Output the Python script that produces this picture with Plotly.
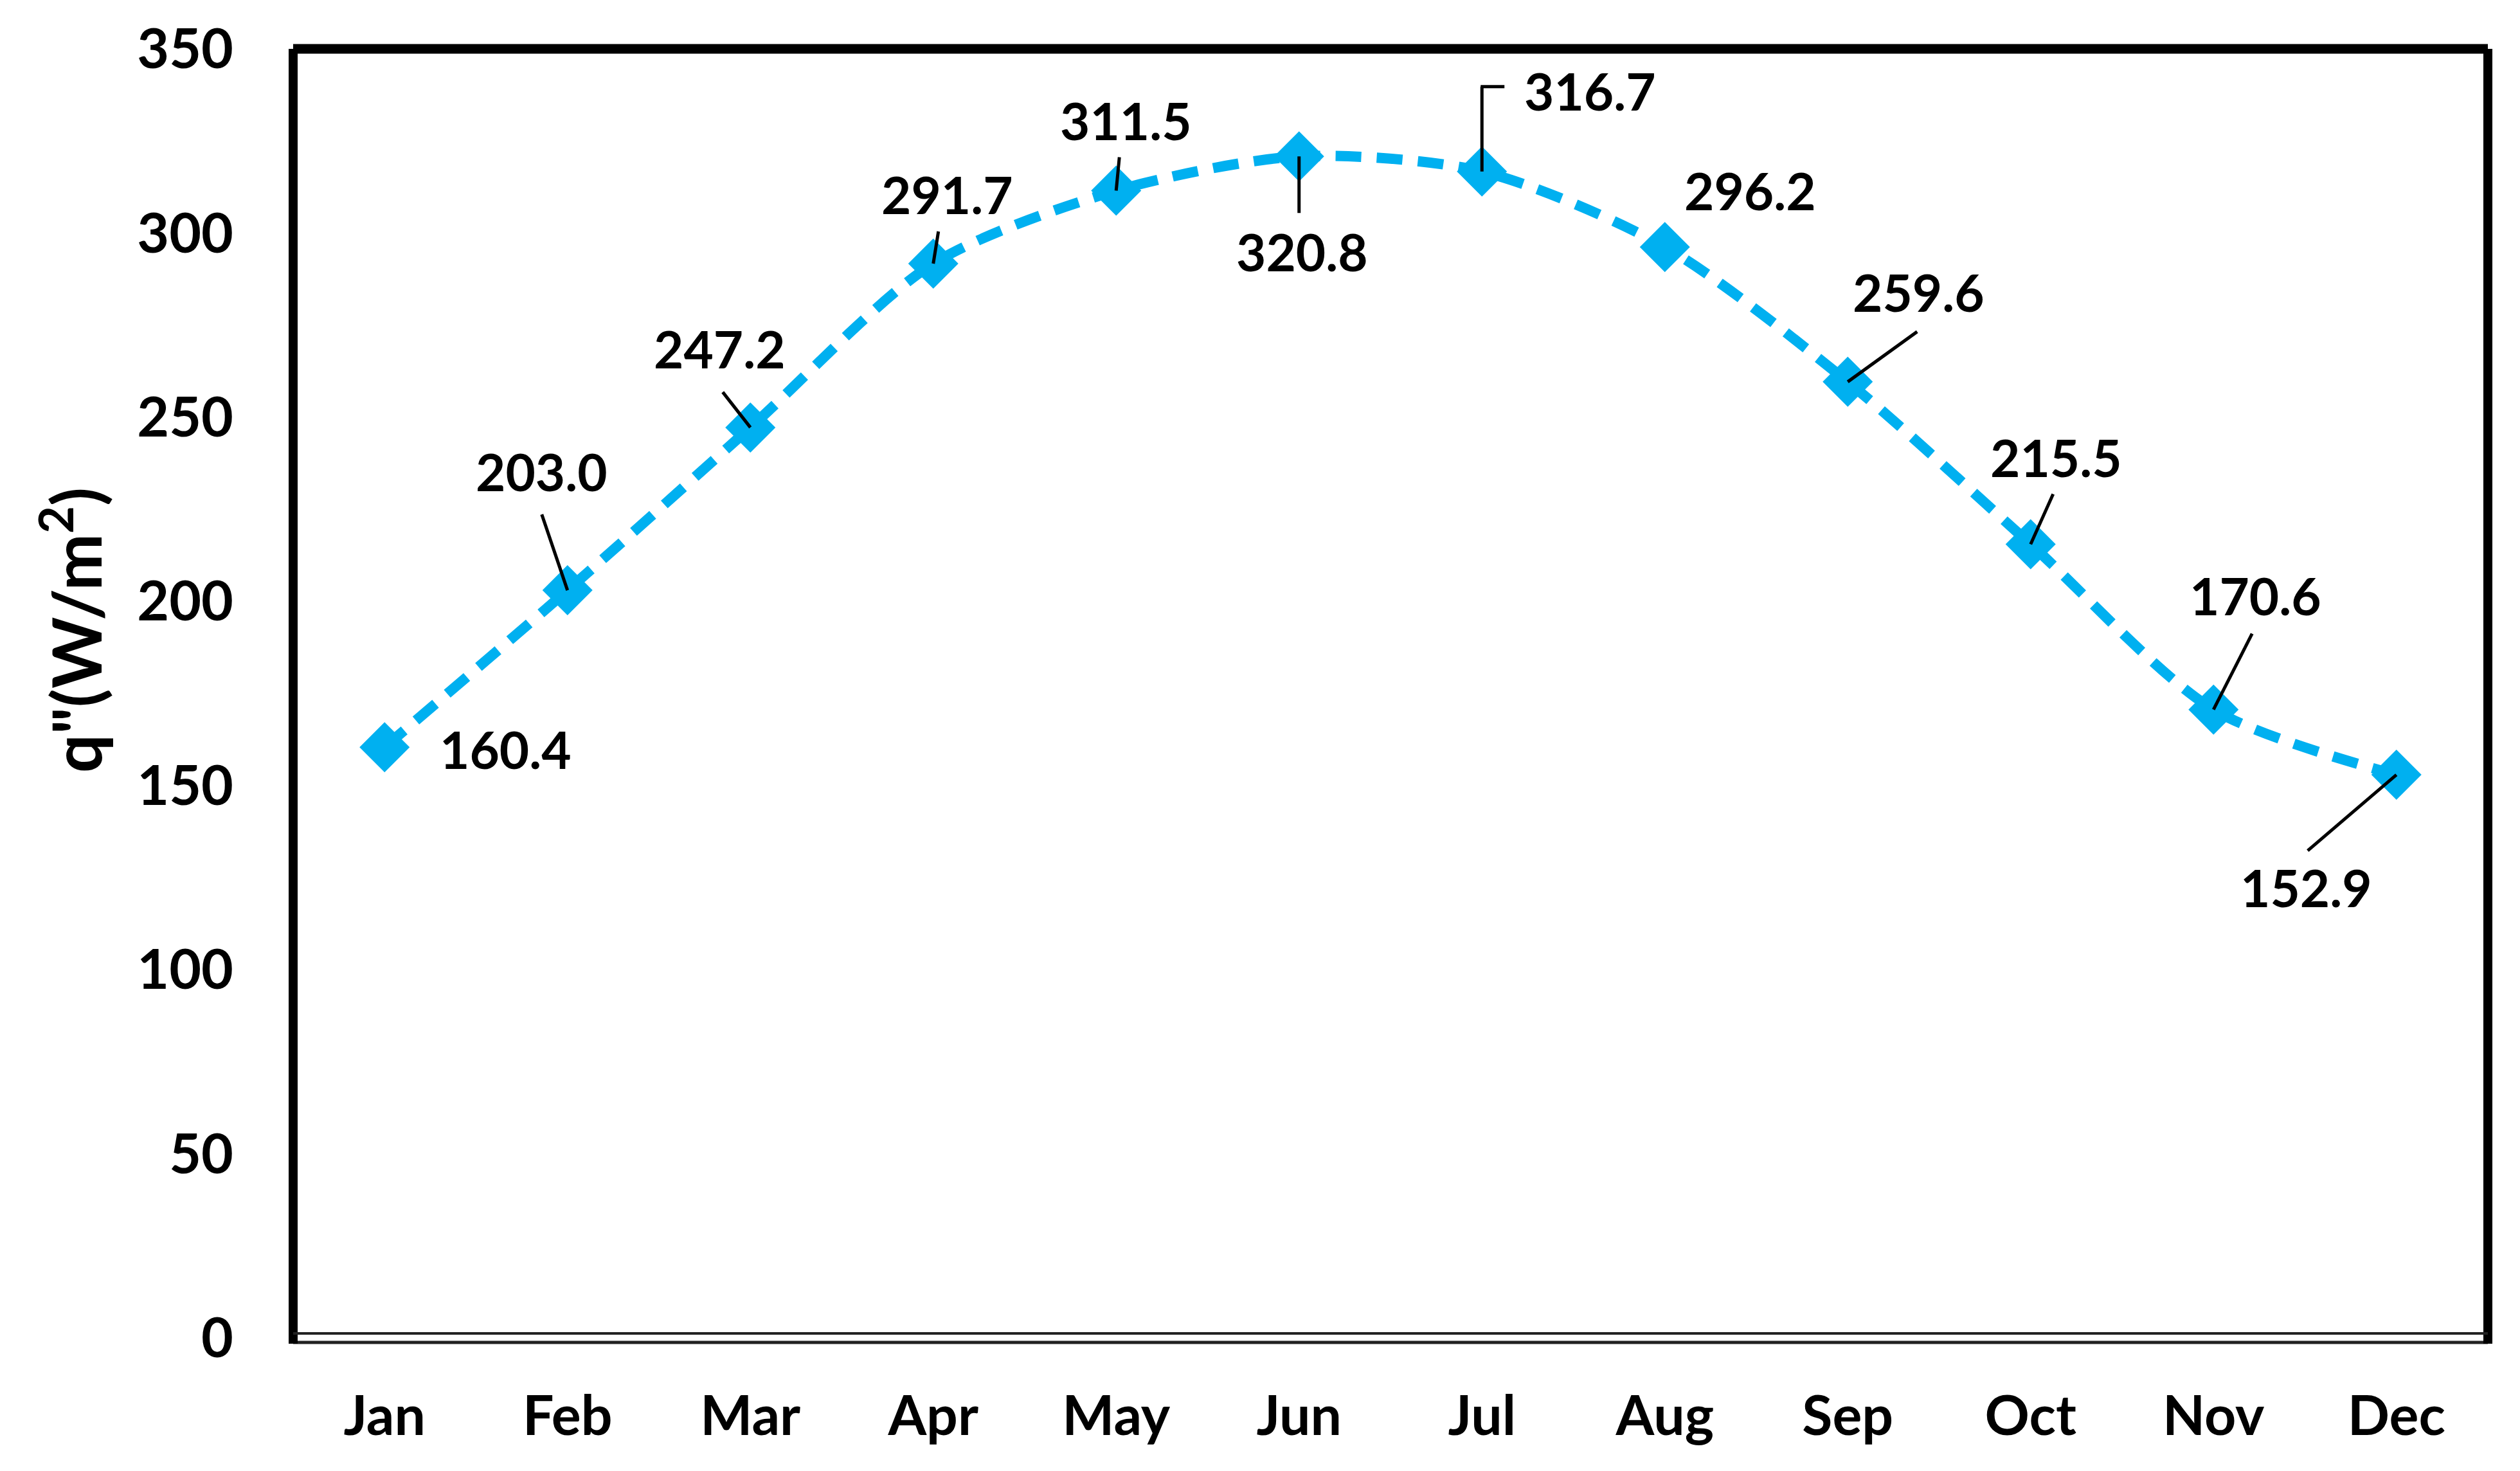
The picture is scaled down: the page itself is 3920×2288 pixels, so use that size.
import plotly.graph_objects as go

months = ["Jan", "Feb", "Mar", "Apr", "May", "Jun", "Jul", "Aug", "Sep", "Oct", "Nov", "Dec"]
q_values = [160.4, 203.0, 247.2, 291.7, 311.5, 320.8, 316.7, 296.2, 259.6, 215.5, 170.6, 152.9]
y_ticks = [0, 50, 100, 150, 200, 250, 300, 350]

# label placement offsets (pixels, right / up) relative to each marker
label_dx = [188, -40, -48, 22, 15, 5, 168, 133, 110, 40, 65, -140]
label_dy = [-3, 185, 123, 108, 110, -148, 126, 88, 140, 135, 178, -175]
# leader line start (pixels) relative to marker; None = no leader
leader_start = [None, (-40, 118), (-43, 55), (8, 50), (5, 52), (0, -88), None, None,
                (108, 78), (35, 78), (60, 118), (-138, -118)]

FONT = "Lato, Open Sans, sans-serif"
BLUE = "#00B0F0"
idx = list(range(len(months)))

fig = go.Figure()
fig.add_trace(go.Scatter(
    x=idx, y=q_values, mode="lines+markers",
    line=dict(color=BLUE, width=16, dash="40px,24px", shape="spline", smoothing=0.8),
    marker=dict(symbol="diamond", size=60, color=BLUE),
    showlegend=False, hoverinfo="skip",
))

shapes = []
annotations = []
for i, v in enumerate(q_values):
    annotations.append(dict(
        x=i, y=v, xref="x", yref="y", text=f"{v:.1f}", showarrow=False,
        xshift=label_dx[i], yshift=label_dy[i], xanchor="center", yanchor="middle",
        font=dict(family=FONT, size=80, color="black", weight="bold"),
    ))
    if leader_start[i] is not None:
        sx, sy = leader_start[i]
        shapes.append(dict(
            type="line", xref="x", yref="y", xsizemode="pixel", ysizemode="pixel",
            xanchor=i, yanchor=v, x0=sx, y0=sy, x1=0, y1=0,
            line=dict(color="black", width=5),
        ))

# Jul elbow leader
jul = months.index("Jul")
shapes.append(dict(type="line", xref="x", yref="y", xsizemode="pixel", ysizemode="pixel",
                   xanchor=jul, yanchor=q_values[jul], x0=0, y0=0, x1=0, y1=132,
                   line=dict(color="black", width=5)))
shapes.append(dict(type="line", xref="x", yref="y", xsizemode="pixel", ysizemode="pixel",
                   xanchor=jul, yanchor=q_values[jul], x0=-2, y0=132, x1=35, y1=132,
                   line=dict(color="black", width=5)))

# plot frame
shapes += [
    dict(type="line", xref="paper", yref="paper", x0=0, x1=1, y0=1, y1=1,
         line=dict(color="black", width=15), layer="above"),
    dict(type="line", xref="paper", yref="paper", x0=0, x1=0, y0=0, y1=1,
         line=dict(color="black", width=14), layer="above"),
    dict(type="line", xref="paper", yref="paper", x0=1, x1=1, y0=0, y1=1,
         line=dict(color="black", width=14), layer="above"),
    dict(type="line", xref="paper", yref="paper", ysizemode="pixel", yanchor=0,
         x0=0, x1=1, y0=7, y1=7, line=dict(color="#222222", width=4), layer="above"),
    dict(type="line", xref="paper", yref="paper", ysizemode="pixel", yanchor=0,
         x0=0, x1=1, y0=-7, y1=-7, line=dict(color="#222222", width=5), layer="above"),
    dict(type="line", xref="paper", yref="paper", ysizemode="pixel", yanchor=0,
         x0=0, x1=0, y0=-9, y1=0, line=dict(color="black", width=14), layer="above"),
    dict(type="line", xref="paper", yref="paper", ysizemode="pixel", yanchor=0,
         x0=1, x1=1, y0=-9, y1=0, line=dict(color="black", width=14), layer="above"),
]

# y-axis title as rotated annotation
annotations.append(dict(
    x=0, y=0.549, xref="paper", yref="paper", xshift=-345, text='q"(W/m<sup>2</sup>)',
    textangle=-90, showarrow=False, xanchor="center", yanchor="middle",
    font=dict(family=FONT, size=106, color="black", weight="bold"),
))

fig.update_layout(
    width=3920, height=2288,
    margin=dict(l=448, r=58, t=68, b=215),
    paper_bgcolor="white", plot_bgcolor="white",
    shapes=shapes, annotations=annotations,
    xaxis=dict(
        range=[-0.5, len(months) - 0.5], tickvals=idx, ticktext=months,
        showgrid=False, zeroline=False, showline=False, ticks="",
        ticklabelstandoff=64,
        tickfont=dict(family=FONT, size=86, color="black", weight="bold"),
    ),
    yaxis=dict(
        range=[0, 350], tickvals=y_ticks,
        showgrid=False, zeroline=False, showline=False, ticks="",
        ticklabelstandoff=92,
        tickfont=dict(family=FONT, size=86, color="black", weight="bold"),
    ),
)

fig.write_html("out.html")
